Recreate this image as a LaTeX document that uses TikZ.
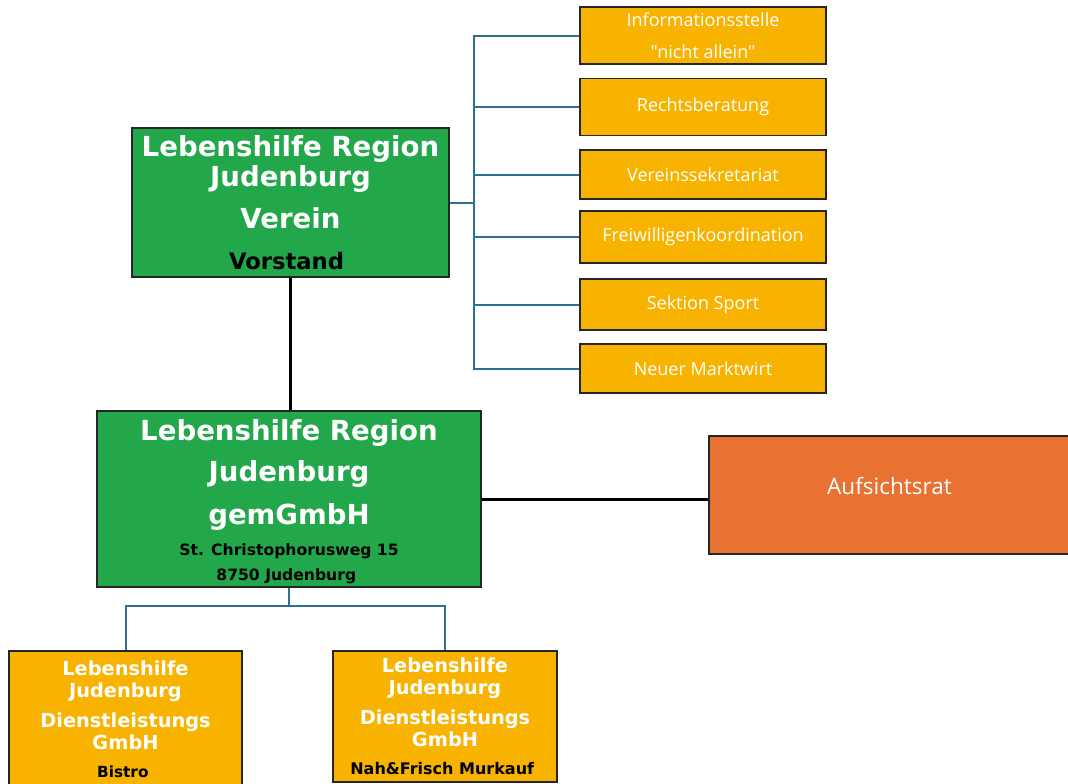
\documentclass[tikz,border=0pt]{standalone}
\usepackage{fontspec}
\setmainfont{DejaVu Sans}
\newfontfamily\boxfont{Open Sans}
\usepackage{xcolor}
\usetikzlibrary{positioning}
\definecolor{lhgreen}{HTML}{22A84A}
\definecolor{lhgold}{HTML}{F8B300}
\definecolor{lhorange}{HTML}{E97132}
\definecolor{lhblue}{HTML}{2F6F8F}

\begin{document}
\begin{tikzpicture}[x=0.75pt,y=-0.75pt,
		org/.style={draw=black!85,line width=1.1pt,align=center,inner sep=0pt},
		head/.style={org,fill=lhgreen,text=white},
		unit/.style={org,fill=lhgold,text=white,minimum width=184.5pt,
			font=\boxfont\fontsize{13.5}{24}\selectfont},
		firm/.style={org,fill=lhgold,text=white,font=\bfseries\fontsize{14.5}{16.5}\selectfont},
		tree/.style={lhblue,line width=1.5pt},
		link/.style={black,line width=2.25pt}]
		
		\useasboundingbox (0,0) rectangle (1068,783);
		\clip (0,0) rectangle (1068,783);
		
		% Verein
		\node[head,minimum width=237.75pt,minimum height=111.75pt,
			font=\bfseries\fontsize{20.7}{22.5}\selectfont] (v) at (290.5,202.5) {
			Lebenshilfe Region\\
			Judenburg\\[9pt]
			Verein\\[8pt]
			\color{black}\fontsize{17}{19}\selectfont Vorstand
		};
		
		% Stabsstellen
		\node[unit,minimum height=42.75pt] (s1) at (703,35.5) {Informationsstelle\\ "nicht allein"};
		\node[unit,minimum height=42.75pt] (s2) at (703,107) {Rechtsberatung};
		\node[unit,minimum height=36.75pt] (s3) at (703,174.5) {Vereinssekretariat};
		\node[unit,minimum height=39pt] (s4) at (703,237) {Freiwilligenkoordination};
		\node[unit,minimum height=38.25pt] (s5) at (703,304.5) {Sektion Sport};
		\node[unit,minimum height=36.75pt] (s6) at (703,368.5) {Neuer Marktwirt};
		
		% gemGmbH
		\node[head,minimum width=288pt,minimum height=132pt,
			font=\bfseries\fontsize{20.7}{30.75}\selectfont] (m) at (289,499) {
			\rule{0pt}{20pt}Lebenshilfe Region\\
			Judenburg\\[1pt]
			gemGmbH\\[-7.5pt]
			\color{black}\fontsize{11.7}{13}\selectfont St. Christophorusweg 15\\[-12pt]
			\color{black}\fontsize{11.7}{13}\selectfont 8750 Judenburg
		};
		
		\node[org,fill=lhorange,text=white,minimum width=270.75pt,minimum height=88.5pt,
			font=\boxfont\fontsize{16.9}{18}\selectfont] (a) at (889.5,495) {Aufsichtsrat\\[-4.5pt]};
		
		% Dienstleistungs GmbH
		\node[firm,minimum width=174.75pt,minimum height=102pt] (b1) at (125.5,719) {
			Lebenshilfe\\ Judenburg\\[6pt]
			Dienstleistungs\\ GmbH\\[4.5pt]
			\color{black}\fontsize{11.5}{14}\selectfont Bistro
		};
		\node[firm,minimum width=168pt,minimum height=98.25pt] (b2) at (445,716.5) {
			Lebenshilfe\\ Judenburg\\[6pt]
			Dienstleistungs\\ GmbH\\[4.5pt]
			\color{black}\fontsize{12}{14}\selectfont Nah\&Frisch Murkauf
		};
		
		\foreach \i in {1,...,6}
			\draw[tree] (v.east) -- ++(24,0) |- (s\i.west);
		
		\draw[link] (v.south) -- (v.south |- m.north);
		\draw[link] (m.east) -- (m.east -| a.west);
		
		\draw[tree] (m.south) -- ++(0,18) -| (b1.north);
		\draw[tree] (m.south) -- ++(0,18) -| (b2.north);
		\end{tikzpicture}
\end{document}
